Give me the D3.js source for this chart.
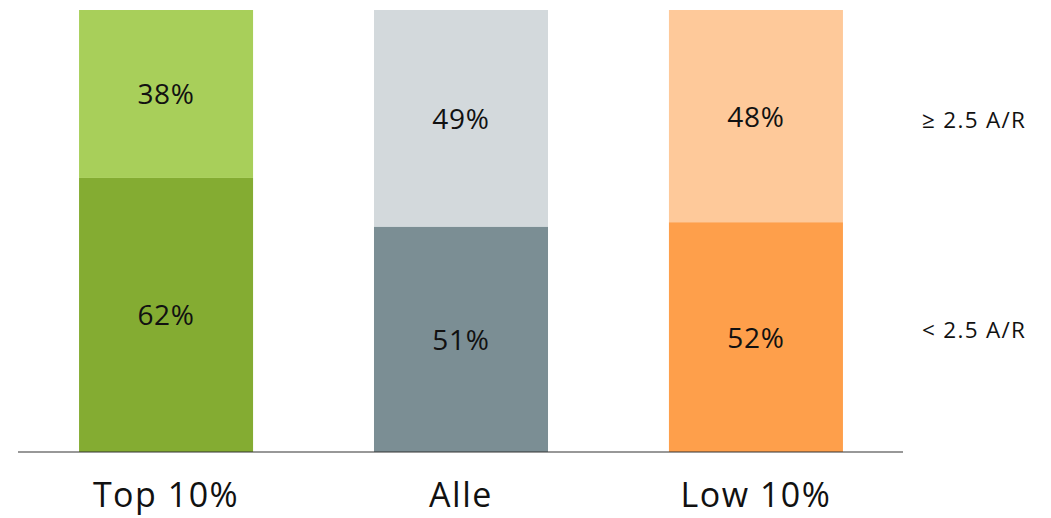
<!DOCTYPE html>
<html>
<head>
<meta charset="utf-8">
<script src="https://cdn.jsdelivr.net/npm/d3@7"></script>
<style>
  body { margin: 0; background: #fff; }
  svg text { font-family: "Open Sans", "Noto Sans", sans-serif; fill: #111; }
</style>
</head>
<body>
<svg id="chart"></svg>
<script>
const width = 1051;
const height = 518;

const categories = ["Top 10%", "Alle", "Low 10%"];
const lowShare = [62, 51, 52];   // < 2.5 A/R
const highShare = [38, 49, 48];  // ≥ 2.5 A/R
const seriesLabels = ["< 2.5 A/R", "≥ 2.5 A/R"];
const lowColors = ["#84ac32", "#7b8e94", "#fe9f4b"];
const highColors = ["#a8cf5a", "#d3d9dc", "#fec99a"];

const svg = d3.select("#chart")
    .attr("width", width)
    .attr("height", height);

const x = d3.scaleBand()
    .domain(categories)
    .range([0, 922])
    .paddingInner(0.41)
    .paddingOuter(0.268);

const y = d3.scaleLinear()
    .domain([0, 100])
    .range([452, 10]);

const rows = categories.map((c, i) => ({ cat: c, low: lowShare[i], high: highShare[i], i }));

const g = svg.append("g");

// lower segments
g.selectAll(".low")
    .data(rows)
    .enter()
    .append("rect")
    .attr("x", d => x(d.cat))
    .attr("width", x.bandwidth())
    .attr("y", d => y(d.low))
    .attr("height", d => y(0) - y(d.low))
    .attr("fill", d => lowColors[d.i]);

// upper segments
g.selectAll(".high")
    .data(rows)
    .enter()
    .append("rect")
    .attr("x", d => x(d.cat))
    .attr("width", x.bandwidth())
    .attr("y", d => y(d.low + d.high))
    .attr("height", d => y(d.low) - y(d.low + d.high))
    .attr("fill", d => highColors[d.i]);

// value labels
g.selectAll(".lowLabel")
    .data(rows)
    .enter()
    .append("text")
    .attr("x", d => x(d.cat) + x.bandwidth() / 2)
    .attr("y", d => y(d.low / 2) + 10.5)
    .attr("text-anchor", "middle")
    .attr("font-size", 28)
    .attr("letter-spacing", 0.7)
    .text(d => d.low + "%");

g.selectAll(".highLabel")
    .data(rows)
    .enter()
    .append("text")
    .attr("x", d => x(d.cat) + x.bandwidth() / 2)
    .attr("y", d => y(d.low + d.high / 2) + 10.5)
    .attr("text-anchor", "middle")
    .attr("font-size", 28)
    .attr("letter-spacing", 0.7)
    .text(d => d.high + "%");

// baseline
svg.append("line")
    .attr("x1", 18).attr("x2", 903)
    .attr("y1", y(0)).attr("y2", y(0))
    .attr("stroke", "#333")
    .attr("stroke-width", 1.2);

// category labels
svg.selectAll(".cat")
    .data(rows)
    .enter()
    .append("text")
    .attr("x", d => x(d.cat) + x.bandwidth() / 2)
    .attr("y", 507)
    .attr("text-anchor", "middle")
    .attr("font-size", 34)
    .attr("letter-spacing", 1.5)
    .text(d => d.cat);

// series labels on the right
svg.append("text")
    .attr("x", 922)
    .attr("y", 128)
    .attr("font-size", 22.5)
    .attr("letter-spacing", 1.3)
    .text(seriesLabels[1]);

svg.append("text")
    .attr("x", 922)
    .attr("y", 338)
    .attr("font-size", 22.5)
    .attr("letter-spacing", 1.3)
    .text(seriesLabels[0]);
</script>
</body>
</html>
